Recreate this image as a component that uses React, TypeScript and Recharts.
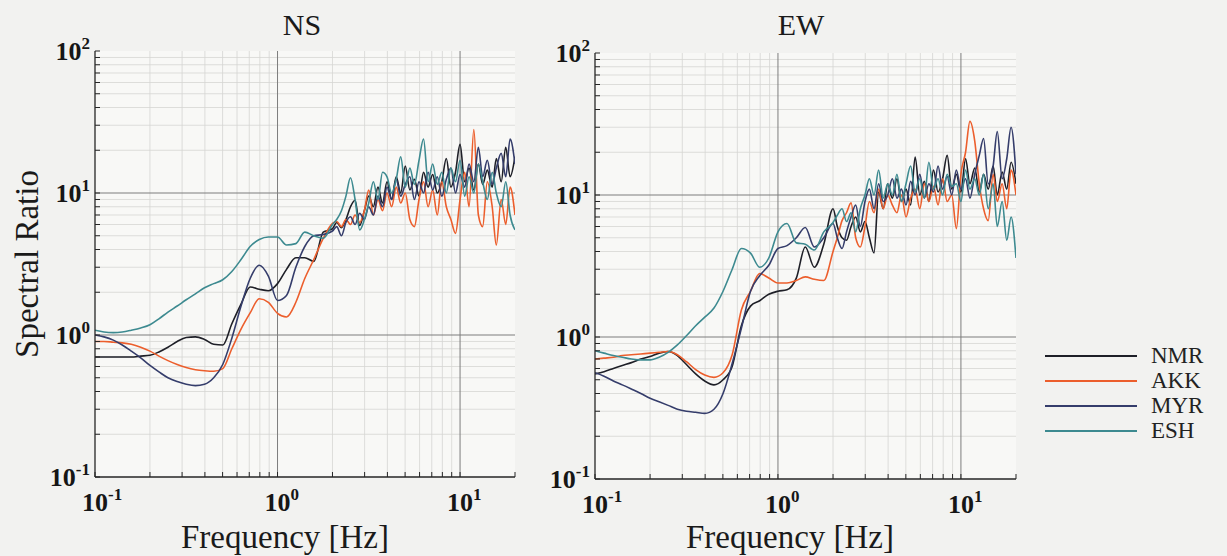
import React from "react";
import { LineChart, Line, XAxis, YAxis, CartesianGrid, Legend } from "recharts";

// frequency grid [Hz], log spaced
const FREQ = [
  0.1, 0.112, 0.126, 0.141, 0.158, 0.178, 0.2, 0.224, 0.251, 0.282,
  0.316, 0.355, 0.398, 0.447, 0.501, 0.562, 0.631, 0.708, 0.794, 0.891,
  1.0, 1.12, 1.26, 1.41, 1.58, 1.78, 2.0, 2.11, 2.24, 2.37,
  2.51, 2.66, 2.82, 2.99, 3.16, 3.35, 3.55, 3.76, 3.98, 4.22,
  4.47, 4.73, 5.01, 5.31, 5.62, 5.96, 6.31, 6.68, 7.08, 7.5,
  7.94, 8.41, 8.91, 9.44, 10.0, 10.6, 11.2, 11.9, 12.6, 13.3,
  14.1, 15.0, 15.8, 16.8, 17.8, 18.8, 20.0,
];

// NS component
const NS_NMR = [
  0.7, 0.7, 0.7, 0.7, 0.7, 0.71, 0.72, 0.76, 0.82, 0.9,
  0.96, 0.97, 0.93, 0.86, 0.85, 1.2, 1.65, 2.18, 2.1, 2.05,
  2.3, 2.9, 3.5, 3.5, 3.3, 5.3, 5.6, 6.2, 5.7, 6.5,
  8.0, 8.9, 5.9, 7.5, 9.5, 8.0, 11.0, 8.5, 12.0, 9.0,
  13.0, 10.0, 15.5, 10.5, 12.5, 9.5, 14.0, 11.0, 13.5, 10.0,
  12.0, 17.5, 11.0, 14.0, 22.0, 12.0, 15.0, 10.5, 16.0, 11.5,
  14.5, 11.0, 17.5, 12.0, 21.0, 13.0, 18.0,
];
const NS_AKK = [
  0.9, 0.9, 0.89, 0.88, 0.86, 0.82, 0.77, 0.71, 0.66, 0.62,
  0.59, 0.57, 0.56, 0.555, 0.58, 0.8, 1.1, 1.43, 1.8, 1.7,
  1.42, 1.34, 1.7, 2.5, 3.4, 4.8, 6.1, 6.3, 5.8, 6.5,
  6.0, 7.0, 6.2, 7.5, 10.5, 7.0, 9.0, 7.5, 10.0, 8.0,
  11.0, 8.5, 10.0, 6.5, 5.8, 9.0, 12.0, 8.0, 10.5, 7.0,
  12.0, 8.0, 6.5, 5.2, 9.0, 14.0, 8.0, 28.0, 7.0, 5.8,
  12.0, 8.0, 4.3, 9.0, 6.0, 11.0, 7.0,
];
const NS_MYR = [
  1.0, 0.97, 0.92, 0.85, 0.77, 0.69, 0.61, 0.55, 0.5, 0.47,
  0.45, 0.44, 0.45, 0.5, 0.62, 0.95, 1.6, 2.5, 3.1, 2.6,
  1.75, 1.9, 3.0, 4.2, 5.0, 5.1, 5.4, 5.8, 5.0, 6.2,
  6.8, 6.0, 7.2, 6.5, 8.0, 7.0, 9.5, 8.0, 11.0, 9.0,
  12.5, 9.5, 11.5, 13.0, 9.0, 12.0, 10.0, 14.0, 10.5, 13.0,
  9.5, 12.5, 15.0, 10.0, 13.5, 11.0, 16.0, 12.0, 21.0, 13.0,
  17.0, 11.5, 15.0, 19.0, 13.0, 24.0, 16.0,
];
const NS_ESH = [
  1.08, 1.05, 1.04, 1.05, 1.08, 1.12, 1.18, 1.3, 1.45, 1.6,
  1.77, 1.95, 2.15, 2.3, 2.45, 2.8, 3.4, 4.2, 4.7, 4.9,
  4.9, 4.3, 4.4, 5.3, 5.0, 4.8, 6.0, 6.5, 7.5, 9.5,
  12.8, 9.0, 5.5, 6.5, 8.5, 12.0, 9.0, 14.0, 13.0, 10.0,
  12.5, 18.0, 11.0, 15.0, 11.5, 17.0, 24.0, 12.0, 16.0, 11.5,
  14.0, 10.0, 15.0, 12.0, 17.0, 9.5, 13.0, 10.0, 16.0, 12.0,
  9.0, 14.0, 10.0, 8.0, 12.0, 7.0, 5.5,
];

// EW component
const EW_NMR = [
  0.55, 0.57, 0.6, 0.63, 0.66, 0.7, 0.73, 0.77, 0.79, 0.74,
  0.64, 0.55, 0.49, 0.46, 0.5, 0.62, 1.2, 1.65, 1.8, 2.0,
  2.1, 2.15, 2.6, 4.3, 3.1, 4.5, 8.0, 6.0, 5.0, 4.8,
  6.0, 7.0, 5.5, 6.5, 5.0, 3.9, 10.5, 8.0, 12.0, 9.5,
  13.0, 9.0, 11.0, 8.5, 18.5, 10.0, 12.5, 9.0, 15.0, 10.5,
  13.0, 19.0, 11.0, 14.0, 10.5, 18.0, 12.0, 15.5, 10.5, 14.0,
  11.0, 16.0, 10.0, 14.5, 11.0, 17.0, 12.0,
];
const EW_AKK = [
  0.7, 0.71, 0.72, 0.74, 0.75, 0.76, 0.77, 0.78, 0.79, 0.75,
  0.67, 0.59, 0.54, 0.52, 0.56, 0.75, 1.55, 2.1, 2.8, 2.6,
  2.4, 2.4, 2.5, 2.65, 2.55, 2.5, 4.0, 5.0, 6.6, 7.5,
  8.8, 5.0, 4.3, 6.0, 9.0, 7.5, 11.0, 8.0, 10.0, 8.5,
  7.5, 10.0, 7.0, 9.5, 11.0, 8.0, 12.0, 9.0, 11.5, 8.5,
  13.0, 9.0, 10.0, 5.8, 14.0, 20.0, 33.0, 24.0, 12.0, 8.0,
  6.6, 14.0, 9.0, 12.0, 8.0, 15.0, 10.0,
];
const EW_MYR = [
  0.56, 0.53, 0.49, 0.46, 0.43, 0.4, 0.37, 0.35, 0.33, 0.31,
  0.3, 0.295, 0.29, 0.31, 0.4, 0.65, 1.15, 2.1, 2.7, 3.2,
  4.2, 4.4, 5.0, 5.9, 4.3, 5.0, 6.3, 5.0, 4.2, 5.5,
  7.0, 8.5, 6.0, 9.0, 11.0, 8.0, 12.0, 9.0, 10.0, 13.0,
  9.5, 11.0, 8.5, 12.5, 10.0, 14.0, 9.5, 12.0, 10.5, 16.0,
  11.0, 13.5, 10.0, 15.0, 11.0, 13.0, 9.5, 14.0, 19.0, 25.0,
  12.0, 16.0, 28.0, 13.0, 18.0, 30.0, 14.0,
];
const EW_ESH = [
  0.8, 0.77, 0.74, 0.72, 0.7, 0.69, 0.69, 0.72, 0.78, 0.88,
  1.02, 1.2, 1.38, 1.6, 2.1, 3.0, 4.2, 3.9, 3.1, 3.6,
  5.5, 6.3, 4.6, 4.5, 4.1, 5.5, 6.4, 7.2, 8.0, 6.5,
  7.5, 5.5, 8.0, 10.0, 13.0, 10.0, 15.0, 9.5, 12.0, 10.0,
  14.0, 9.0, 12.0, 16.0, 10.5, 13.0, 9.5, 17.0, 11.0, 13.0,
  10.0, 14.0, 11.5, 12.0, 9.0, 15.0, 11.0, 13.0, 10.0, 14.0,
  8.0, 12.0, 6.0, 9.0, 4.8, 7.0, 3.6,
];

const X_TICKS = [0.1, 0.2, 0.3, 0.4, 0.5, 0.6, 0.7, 0.8, 0.9, 1, 2, 3, 4, 5, 6, 7, 8, 9, 10, 20];
const Y_TICKS = [
  0.1, 0.2, 0.3, 0.4, 0.5, 0.6, 0.7, 0.8, 0.9, 1, 2, 3, 4, 5, 6, 7, 8, 9,
  10, 20, 30, 40, 50, 60, 70, 80, 90, 100,
];
const X_MINOR = [0.2, 0.3, 0.4, 0.5, 0.6, 0.7, 0.8, 0.9, 2, 3, 4, 5, 6, 7, 8, 9];
const X_MAJOR = [1, 10];
const Y_MINOR = [
  0.2, 0.3, 0.4, 0.5, 0.6, 0.7, 0.8, 0.9, 2, 3, 4, 5, 6, 7, 8, 9,
  20, 30, 40, 50, 60, 70, 80, 90,
];
const Y_MAJOR = [1, 10];

const SERIES = [
  { key: "NMR", color: "#1e1f27" },
  { key: "AKK", color: "#ec5e2c" },
  { key: "MYR", color: "#353d6b" },
  { key: "ESH", color: "#3d8a90" },
];

const FONT = '"Liberation Serif", "Times New Roman", serif';
const AXIS = "#262626";

function buildRows(nmr: number[], akk: number[], myr: number[], esh: number[]) {
  return FREQ.map((f, i) => ({ f, NMR: nmr[i], AKK: akk[i], MYR: myr[i], ESH: esh[i] }));
}

const nsData = buildRows(NS_NMR, NS_AKK, NS_MYR, NS_ESH);
const ewData = buildRows(EW_NMR, EW_AKK, EW_MYR, EW_ESH);

const expOf = (v: number) => Math.round(Math.log10(v));
const isDecade = (v: number) => Math.abs(Math.log10(v) - expOf(v)) < 1e-6;

const makeXTick = (baseline: number) => (props: any) => {
  const v = props.payload.value;
  if (!isDecade(v)) return <g />;
  return (
    <text x={props.x - 13} y={baseline} fontFamily={FONT} fontWeight={700} fontSize={26} fill="#161616">
      10
      <tspan dy={-11} fontSize={17}>
        {expOf(v)}
      </tspan>
    </text>
  );
};

const makeYTick = (right: number) => (props: any) => {
  const v = props.payload.value;
  if (!isDecade(v)) return <g />;
  return (
    <text x={right} y={props.y + 9} textAnchor="end" fontFamily={FONT} fontWeight={700} fontSize={26} fill="#161616">
      10
      <tspan dy={-11} fontSize={17}>
        {expOf(v)}
      </tspan>
    </text>
  );
};

// keep the legend in the figure's own order, not alphabetical
function LegendContent({ payload }: any) {
  const items = payload || [];
  return (
    <div>
      {SERIES.map((s) => {
        const e = items.find((p: any) => p.value === s.key);
        return (
          <div key={s.key} style={{ display: "flex", alignItems: "center", height: 25 }}>
            <svg width={92} height={4}>
              <line x1={0} y1={2} x2={92} y2={2} stroke={e ? e.color : s.color} strokeWidth={1.8} />
            </svg>
            <span style={{ marginLeft: 14, fontFamily: FONT, fontSize: 23, color: "#222" }}>{s.key}</span>
          </div>
        );
      })}
    </div>
  );
}

type PanelProps = {
  data: any[];
  width: number;
  top: number;
  right: number;
  yAxisWidth: number;
  xAxisHeight: number;
  xLabelX: number;
  yLabel?: boolean;
  legend?: boolean;
};

function Panel({ data, width, top, right, yAxisWidth, xAxisHeight, xLabelX, yLabel, legend }: PanelProps) {
  const height = 556;
  const plotBottom = height - xAxisHeight;
  return (
    <LineChart width={width} height={height} data={data} margin={{ top, right, bottom: 0, left: 0 }}>
      <CartesianGrid
        verticalValues={X_MINOR}
        horizontalValues={Y_MINOR}
        stroke="#d6d6d3"
        strokeWidth={0.8}
        fill="#f8f8f6"
      />
      <CartesianGrid verticalValues={X_MAJOR} horizontalValues={Y_MAJOR} stroke="#7d7d7d" strokeWidth={1} />
      <XAxis
        dataKey="f"
        type="number"
        scale="log"
        domain={[0.1, 20]}
        allowDataOverflow
        ticks={X_TICKS}
        interval={0}
        tickSize={-5}
        tickMargin={0}
        height={xAxisHeight}
        axisLine={{ stroke: AXIS, strokeWidth: 1.3 }}
        tickLine={{ stroke: AXIS }}
        tick={makeXTick(plotBottom + 34)}
        label={{
          content: () => (
            <text x={xLabelX} y={548} textAnchor="middle" fontFamily={FONT} fontSize={33} fill="#1a1a1a">
              Frequency [Hz]
            </text>
          ),
        }}
      />
      <XAxis
        xAxisId="top"
        orientation="top"
        type="number"
        scale="log"
        domain={[0.1, 20]}
        allowDataOverflow
        ticks={X_TICKS}
        interval={0}
        tickSize={-5}
        height={0}
        axisLine={{ stroke: AXIS, strokeWidth: 1.3 }}
        tickLine={{ stroke: AXIS }}
        tick={false}
      />
      <YAxis
        type="number"
        scale="log"
        domain={[0.1, 100]}
        allowDataOverflow
        ticks={Y_TICKS}
        interval={0}
        tickSize={-5}
        tickMargin={0}
        width={yAxisWidth}
        axisLine={{ stroke: AXIS, strokeWidth: 1.3 }}
        tickLine={{ stroke: AXIS }}
        tick={makeYTick(yAxisWidth - 5)}
        label={
          yLabel
            ? {
                content: () => (
                  <text
                    x={38}
                    y={264}
                    transform="rotate(-90 38 264)"
                    textAnchor="middle"
                    fontFamily={FONT}
                    fontSize={33}
                    fill="#1a1a1a"
                  >
                    Spectral Ratio
                  </text>
                ),
              }
            : undefined
        }
      />
      <YAxis
        yAxisId="right"
        orientation="right"
        type="number"
        scale="log"
        domain={[0.1, 100]}
        allowDataOverflow
        ticks={Y_TICKS}
        interval={0}
        tickSize={-5}
        width={0}
        axisLine={{ stroke: AXIS, strokeWidth: 1.3 }}
        tickLine={{ stroke: AXIS }}
        tick={false}
      />
      {SERIES.map((s) => (
        <Line
          key={s.key}
          dataKey={s.key}
          name={s.key}
          stroke={s.color}
          strokeWidth={1.6}
          type="monotone"
          dot={false}
          activeDot={false}
          isAnimationActive={false}
        />
      ))}
      {legend && (
        <Legend
          layout="vertical"
          align="center"
          verticalAlign="middle"
          wrapperStyle={{ left: 505, top: 343, width: 200 }}
          content={LegendContent}
        />
      )}
    </LineChart>
  );
}

const titleStyle: React.CSSProperties = {
  position: "absolute",
  top: 8,
  width: 100,
  textAlign: "center",
  fontFamily: FONT,
  fontSize: 30,
  color: "#1a1a1a",
};

export default function App() {
  return (
    <div style={{ position: "relative", width: 1227, height: 556, background: "#f2f2f0", overflow: "hidden" }}>
      <style>{`body { margin: 0; background: #f2f2f0; }`}</style>
      <div style={{ position: "absolute", left: 0, top: 0 }}>
        <Panel
          data={nsData}
          width={540}
          top={51}
          right={25}
          yAxisWidth={95}
          xAxisHeight={79}
          xLabelX={285}
          yLabel
        />
      </div>
      <div style={{ position: "absolute", left: 540, top: 0 }}>
        <Panel
          data={ewData}
          width={687}
          top={53}
          right={211}
          yAxisWidth={55}
          xAxisHeight={77}
          xLabelX={250}
          legend
        />
      </div>
      <div style={{ ...titleStyle, left: 252 }}>NS</div>
      <div style={{ ...titleStyle, left: 751 }}>EW</div>
    </div>
  );
}
